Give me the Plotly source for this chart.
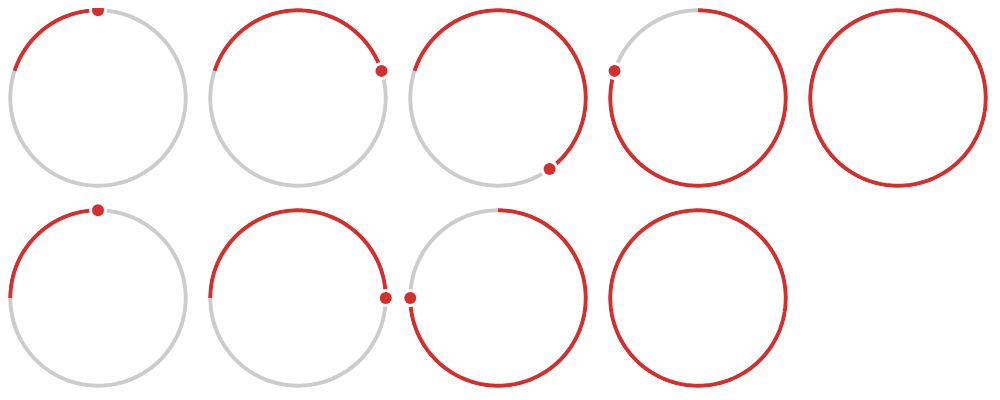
import numpy as np
import plotly.graph_objects as go

# ring data: start angle (deg, clockwise from 12 o'clock) and red share of the ring
rows = [0, 0, 0, 0, 0, 1, 1, 1, 1]
cols = [0, 1, 2, 3, 4, 0, 1, 2, 3]
start_deg = [-72, -72, -72, 0, 0, -90, -90, 0, 0]
fractions = [0.2, 0.4, 0.6, 0.8, 1.0, 0.25, 0.5, 0.75, 1.0]

RED = "#d32f2f"
GREY = "#cccccc"
R = 0.975

fig = go.Figure()
layout = {}
for i, (r, c, s, f) in enumerate(zip(rows, cols, start_deg, fractions)):
    name = "polar" if i == 0 else f"polar{i+1}"
    sub = "polar" if i == 0 else f"polar{i+1}"
    x0 = (200 * c) / 1000
    x1 = (200 * c + 180) / 1000
    y1 = 1 - (200 * r) / 400
    y0 = 1 - (200 * r + 180) / 400
    layout[name] = dict(
        domain=dict(x=[x0, x1], y=[y0, y1]),
        bgcolor="rgba(0,0,0,0)",
        angularaxis=dict(visible=False, rotation=90, direction="clockwise"),
        radialaxis=dict(visible=False, range=[0, 1]),
    )
    end = s + 360 * f
    if f < 1:
        th_g = np.linspace(end, s + 360, 200)
        fig.add_trace(go.Scatterpolar(r=np.full_like(th_g, R), theta=th_g, mode="lines",
                                      line=dict(color=GREY, width=4), subplot=sub,
                                      cliponaxis=False, hoverinfo="skip", showlegend=False))
    th_r = np.linspace(s, end, 300)
    fig.add_trace(go.Scatterpolar(r=np.full_like(th_r, R), theta=th_r, mode="lines",
                                  line=dict(color=RED, width=4), subplot=sub,
                                  cliponaxis=False, hoverinfo="skip", showlegend=False))
    if f < 1:
        fig.add_trace(go.Scatterpolar(r=[R], theta=[end], mode="markers",
                                      marker=dict(color="white", size=18), subplot=sub,
                                      cliponaxis=False, hoverinfo="skip", showlegend=False))
        fig.add_trace(go.Scatterpolar(r=[R], theta=[end], mode="markers",
                                      marker=dict(color=RED, size=12), subplot=sub,
                                      cliponaxis=False, hoverinfo="skip", showlegend=False))

fig.update_layout(**layout)
fig.update_layout(width=1000, height=400, margin=dict(l=0, r=0, t=0, b=0),
                  paper_bgcolor="white", plot_bgcolor="white", showlegend=False)
fig.write_html("out.html")
